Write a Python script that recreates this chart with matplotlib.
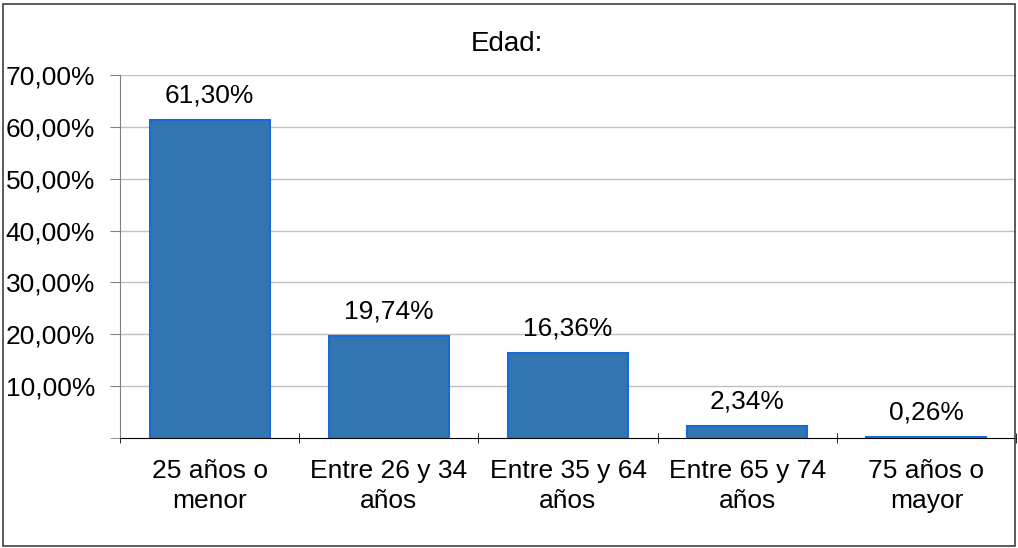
import matplotlib
matplotlib.use("Agg")
import matplotlib.pyplot as plt
from matplotlib.patches import Rectangle
import numpy as np

plt.rcParams['font.family'] = ['Liberation Sans', 'DejaVu Sans']

# data
categorias = ['25 años o\nmenor', 'Entre 26 y 34\naños', 'Entre 35 y 64\naños',
              'Entre 65 y 74\naños', '75 años o\nmayor']
valores = [61.30, 19.74, 16.36, 2.34, 0.26]
etiquetas = ['61,30%', '19,74%', '16,36%', '2,34%', '0,26%']
yticks = [10, 20, 30, 40, 50, 60, 70]

W, H = 1018, 548
fig = plt.figure(figsize=(W/100, H/100), dpi=100)
ax = fig.add_axes([120/W, 1-438/H, (1016-120)/W, (438-75)/H])

x = np.arange(len(valores))
ax.bar(x, valores, width=0.67, color='#3276b1', edgecolor='#1a6ad6', linewidth=1.5, zorder=3)

for xi, v, lab in zip(x, valores, etiquetas):
    ax.annotate(lab, (xi, v), xytext=(0, 9), textcoords='offset points',
                ha='center', va='bottom', fontsize=19)

ax.set_xlim(-0.5, len(valores)-0.5)
ax.set_ylim(0, 70)
ax.set_yticks(yticks)
ax.set_yticklabels(['%d,00%%' % t for t in yticks], fontsize=19)
ax.set_yticks([0], minor=True)
ax.yaxis.grid(True, color='#c0c0c0', linewidth=1, zorder=0)
ax.tick_params(axis='y', which='both', length=7, color='#808080', pad=11)

ax.set_xticks(x)
ax.set_xticklabels(categorias, fontsize=19, linespacing=1.3)
ax.tick_params(axis='x', which='major', length=0, pad=15)
ax.set_xticks(np.arange(-0.5, len(valores)), minor=True)
ax.tick_params(axis='x', which='minor', length=7, color='black', direction='inout')

for s in ['top', 'right']:
    ax.spines[s].set_visible(False)
ax.spines['left'].set_color('#808080')
ax.spines['bottom'].set_color('black')

fig.text(507/W, 1-51/H, 'Edad:', fontsize=20, ha='center', va='baseline')

fig.patches.append(Rectangle((2.5/W, 2.5/H), (1015-2.5)/W, (544-2.5)/H,
                             transform=fig.transFigure, fill=False,
                             edgecolor='#404040', linewidth=1.2))

fig.savefig('out.png', dpi=100)
